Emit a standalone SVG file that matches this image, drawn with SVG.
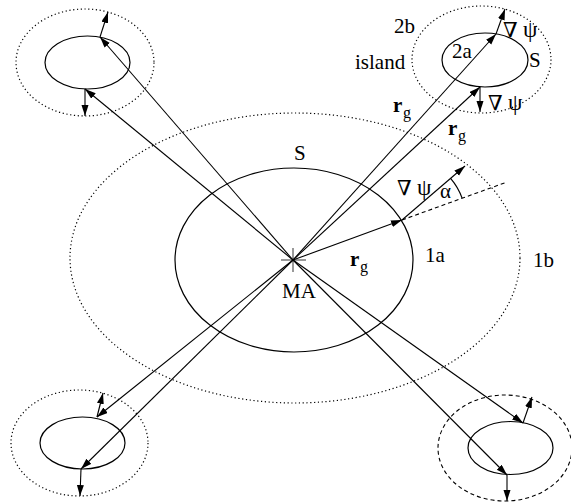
<svg xmlns="http://www.w3.org/2000/svg" width="571" height="502" viewBox="0 0 571 502">
<defs>
<marker id="ah" markerUnits="userSpaceOnUse" markerWidth="12" markerHeight="8" refX="11" refY="3.5" orient="auto">
<path d="M0,0 L11,3.5 L0,7 z" fill="#000"/>
</marker>
<style>
.s{fill:none;stroke:#000;stroke-width:1.2}
.d{fill:none;stroke:#000;stroke-width:1.2;stroke-dasharray:1.2 2.6}
.k{fill:none;stroke:#000;stroke-width:1.1;stroke-dasharray:4 3}
.a{stroke:#000;stroke-width:1.1;fill:none;marker-end:url(#ah)}
text{font-family:"Liberation Serif","DejaVu Serif",serif;font-size:21px;fill:#000}
.b{font-weight:bold}
.sub{font-size:16px}
.p{font-size:23px}
</style>
</defs>
<rect width="571" height="502" fill="#fff"/>
<g id="main">
<ellipse class="d" cx="295" cy="258" rx="225" ry="145"/>
<ellipse class="s" cx="294" cy="260" rx="119" ry="92"/>
<line x1="281" y1="260" x2="306" y2="260" stroke="#555" stroke-width="1.2"/>
<line x1="293" y1="248" x2="293" y2="272" stroke="#555" stroke-width="1.2"/>
<text x="294" y="160">S</text>
<text x="282" y="298">MA</text>
<text x="425" y="262">1a</text>
<text x="533" y="267">1b</text>
</g>
<g id="island-tl">
<ellipse class="d" cx="85" cy="62.5" rx="69" ry="53.5"/>
<ellipse class="s" cx="87.5" cy="62.5" rx="42.5" ry="26.5"/>
</g>
<g id="island-tr">
<ellipse class="d" cx="481.5" cy="59.5" rx="69.5" ry="53.5"/>
<ellipse class="s" cx="485" cy="60" rx="43" ry="27"/>
<text x="394" y="33">2b</text>
<text x="355" y="69">island</text>
<text x="452" y="58">2a</text>
<text x="529" y="67">S</text>
<text x="503" y="37">∇ <tspan class="p">ψ</tspan></text>
<text x="488" y="110">∇ <tspan class="p">ψ</tspan></text>
</g>
<g id="island-bl">
<ellipse class="d" cx="79.5" cy="443" rx="68.5" ry="53"/>
<ellipse class="s" cx="82.5" cy="443" rx="42.5" ry="26"/>
</g>
<g id="island-br">
<ellipse class="k" cx="505" cy="448" rx="67" ry="53"/>
<ellipse class="s" cx="510.5" cy="448" rx="42.5" ry="26.5"/>
</g>
<g id="connectors">
<line class="a" x1="293" y1="260" x2="100" y2="37"/>
<line class="a" x1="100" y1="37" x2="108" y2="12"/>
<line class="a" x1="293" y1="260" x2="85" y2="89"/>
<line class="a" x1="85" y1="89" x2="85" y2="116"/>
<line class="a" x1="293" y1="260" x2="496" y2="34"/>
<line class="a" x1="496" y1="34" x2="505" y2="9"/>
<line class="a" x1="293" y1="260" x2="480" y2="87"/>
<line class="a" x1="480" y1="87" x2="480" y2="112"/>
<line class="a" x1="293" y1="260" x2="97" y2="417"/>
<line class="a" x1="97" y1="417" x2="103" y2="393"/>
<line class="a" x1="293" y1="260" x2="81" y2="469"/>
<line class="a" x1="81" y1="469" x2="80" y2="496"/>
<line class="a" x1="293" y1="260" x2="523" y2="423"/>
<line class="a" x1="523" y1="423" x2="532" y2="397"/>
<line class="a" x1="293" y1="260" x2="507" y2="475"/>
<line class="a" x1="507" y1="475" x2="507" y2="501"/>
<line class="a" x1="293" y1="260" x2="402" y2="220"/>
<line class="a" x1="402" y1="220" x2="465" y2="166"/>
<line class="k" x1="402" y1="220" x2="507" y2="182"/>
<path class="s" d="M450.6,178.4 A64,64 0 0 1 462.1,198.1"/>
</g>
<g id="labels">
<text x="393" y="112" class="b">r</text><text x="403" y="118" class="sub">g</text>
<text x="448" y="135" class="b">r</text><text x="458" y="141" class="sub">g</text>
<text x="350" y="266" class="b">r</text><text x="360" y="272" class="sub">g</text>
<text x="397" y="195">∇ <tspan class="p">ψ</tspan></text>
<text x="440" y="198">α</text>
</g>
</svg>
